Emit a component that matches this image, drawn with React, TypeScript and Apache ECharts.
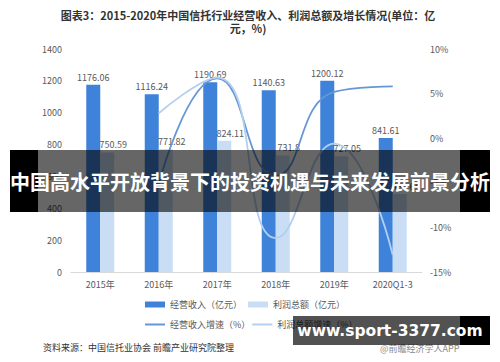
import React, { useEffect, useRef } from "react";
import * as echarts from "echarts";

const categories = ["2015年", "2016年", "2017年", "2018年", "2019年", "2020Q1-3"];
const revenue = [1176.06, 1116.24, 1190.69, 1140.63, 1200.12, 841.61];
const profit = [750.59, 771.82, 824.11, 731.8, 727.05, 489.64];
const revenueGrowth: (number | null)[] = [null, -5.1, 6.7, -4.2, 5.2, 5.8];
const profitGrowth: (number | null)[] = [null, 2.8, 6.8, -11.2, -0.6, -13.1];

const FONT = "'Noto Sans CJK SC', 'Noto Sans', sans-serif";
const LABEL_COLOR = "#595959";

export default function App() {
  const ref = useRef<HTMLDivElement>(null);
  useEffect(() => {
    if (!ref.current) return;
    const chart = echarts.init(ref.current, undefined, { renderer: "svg" });

    const revOffsets: Record<number, number[]> = {};
    const profOffsets: Record<number, number[]> = { 2: [6, 15], 4: [7, 14] };

    const lineData = (arr: (number | null)[], offs: Record<number, number[]>) =>
      arr.map((v, i) =>
        v === null
          ? "-"
          : offs[i]
          ? { value: v, label: { offset: offs[i] } }
          : v
      );

    const option: any = {
      animation: false,
      textStyle: { fontFamily: FONT },
      grid: { left: 71, right: 78, top: 49, bottom: 90 },
      legend: [
        {
          data: ["经营收入（亿元）", "利润总额（亿元）"],
          left: 145,
          top: 300,
          itemWidth: 20,
          itemHeight: 6,
          itemGap: 6,
          padding: 0,
          icon: "rect",
          textStyle: { fontSize: 9, color: LABEL_COLOR, fontFamily: FONT },
        },
        {
          data: ["经营收入增速（%）", "利润总额增速（%）"],
          left: 145,
          top: 320,
          itemWidth: 20,
          itemHeight: 2,
          itemGap: 2,
          padding: 0,
          icon: "rect",
          textStyle: { fontSize: 9, color: LABEL_COLOR, fontFamily: FONT },
        },
      ],
      xAxis: {
        type: "category",
        data: categories,
        axisLine: { lineStyle: { color: "#d9d9d9" } },
        axisTick: { show: false },
        axisLabel: { color: LABEL_COLOR, fontSize: 9, margin: 8, fontFamily: FONT },
      },
      yAxis: [
        {
          type: "value",
          min: 0,
          max: 1400,
          interval: 200,
          splitLine: { show: false },
          axisLine: { show: false },
          axisTick: { show: false },
          axisLabel: {
            color: LABEL_COLOR,
            fontSize: 9,
            margin: 9,
            fontFamily: FONT,
            formatter: (v: number) => String(v),
          },
        },
        {
          type: "value",
          min: -15,
          max: 10,
          interval: 5,
          splitLine: { show: false },
          axisLine: { show: false },
          axisTick: { show: false },
          axisLabel: {
            color: LABEL_COLOR,
            fontSize: 9,
            margin: 8,
            formatter: "{value}%",
            fontFamily: FONT,
          },
        },
      ],
      series: [
        {
          name: "经营收入（亿元）",
          type: "bar",
          data: revenue,
          barWidth: 14,
          barGap: "0%",
          itemStyle: { color: "#3f82da" },
          label: {
            show: true,
            position: "top",
            distance: 3,
            color: LABEL_COLOR,
            fontSize: 9,
            fontFamily: FONT,
          },
          z: 2,
        },
        {
          name: "利润总额（亿元）",
          type: "bar",
          data: profit,
          barWidth: 14,
          itemStyle: { color: "#c9ddf5" },
          label: {
            show: true,
            position: "top",
            distance: 3,
            offset: [6, 0],
            color: LABEL_COLOR,
            fontSize: 9,
            fontFamily: FONT,
          },
          z: 2,
        },
        {
          name: "经营收入增速（%）",
          type: "line",
          yAxisIndex: 1,
          data: lineData(revenueGrowth, revOffsets),
          smooth: 0.5,
          symbol: "none",
          lineStyle: { color: "#6597d6", width: 1.8 },
          itemStyle: { color: "#6597d6" },
          label: {
            show: true,
            position: "right",
            distance: 5,
            formatter: "{c}%",
            color: LABEL_COLOR,
            fontSize: 9,
            fontFamily: FONT,
          },
          z: 3,
        },
        {
          name: "利润总额增速（%）",
          type: "line",
          yAxisIndex: 1,
          data: lineData(profitGrowth, profOffsets),
          smooth: 0.5,
          symbol: "none",
          lineStyle: { color: "#b3cfee", width: 1.8 },
          itemStyle: { color: "#b3cfee" },
          label: {
            show: true,
            position: "right",
            distance: 5,
            formatter: "{c}%",
            color: LABEL_COLOR,
            fontSize: 9,
            fontFamily: FONT,
          },
          z: 3,
        },
      ],
      graphic: [
        {
          type: "text",
          z: 50,
          x: 248,
          y: 8,
          style: {
            text: "图表3：2015-2020年中国信托行业经营收入、利润总额及增长情况(单位：亿\n元，%)",
            fontSize: 11,
            fontWeight: "bold",
            fill: "#333",
            lineHeight: 13,
            align: "center",
            verticalAlign: "top",
            fontFamily: FONT,
          },
        },
        {
          type: "text",
          left: 43,
          top: 343,
          z: 50,
          style: {
            text: "资料来源：中国信托业协会 前瞻产业研究院整理",
            fontSize: 9,
            fill: "#333",
            fontFamily: FONT,
          },
        },
        {
          type: "rect",
          z: 100,
          shape: { x: 10, y: 150, width: 480, height: 62 },
          style: { fill: "rgba(0,0,0,0.6)" },
        },
        {
          type: "rect",
          z: 100,
          shape: { x: 10, y: 150, width: 28, height: 62 },
          style: { fill: "#000" },
        },
        {
          type: "rect",
          z: 100,
          shape: { x: 460, y: 150, width: 30, height: 62 },
          style: { fill: "#000" },
        },
        {
          type: "text",
          z: 101,
          x: 250,
          y: 181,
          style: {
            text: "中国高水平开放背景下的投资机遇与未来发展前景分析",
            fontSize: 20,
            fontWeight: "bold",
            fill: "#fff",
            align: "center",
            verticalAlign: "middle",
            fontFamily: FONT,
          },
        },
        {
          type: "text",
          z: 100,
          x: 380,
          y: 348,
          style: {
            text: "@前瞻经济学人APP",
            fontSize: 9,
            fill: "#888",
            verticalAlign: "middle",
            fontFamily: FONT,
          },
        },
        {
          type: "rect",
          z: 101,
          shape: { x: 293, y: 316, width: 197, height: 29 },
          style: { fill: "rgba(0,0,0,0.68)" },
        },
        {
          type: "rect",
          z: 101,
          shape: { x: 460, y: 316, width: 30, height: 29 },
          style: { fill: "#000" },
        },
        {
          type: "text",
          z: 102,
          x: 390,
          y: 331,
          style: {
            text: "www.sport-3377.com",
            fontSize: 15.5,
            fontWeight: "bold",
            fill: "#fff",
            align: "center",
            verticalAlign: "middle",
            fontFamily: "'DejaVu Sans', sans-serif",
          },
        },
      ],
    };

    chart.setOption(option);
    return () => chart.dispose();
  }, []);

  return <div ref={ref} style={{ width: 500, height: 362, margin: -8 }} />;
}
